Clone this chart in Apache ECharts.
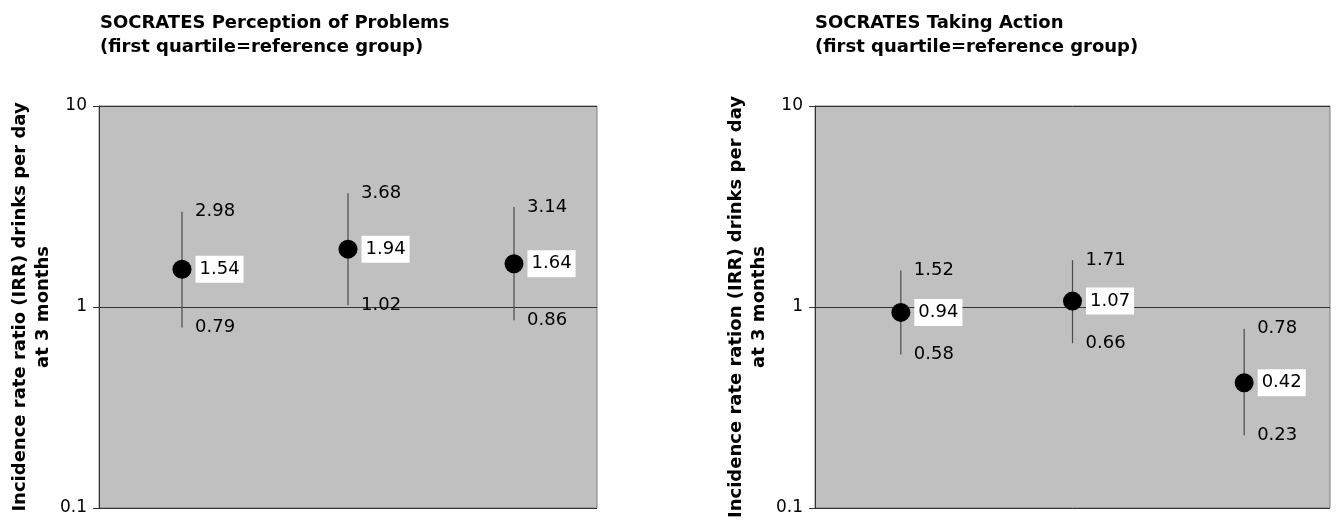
<!DOCTYPE html>
<html>
<head>
<meta charset="utf-8">
<script src="https://cdn.jsdelivr.net/npm/echarts@6/dist/echarts.min.js"></script>
<style>
html,body{margin:0;padding:0;background:#fff;}
#c{width:1339px;height:521px;}
</style>
</head>
<body>
<div id="c"></div>
<script>
// ---- data ----
const quartiles = ['Second quartile', 'Third quartile', 'Fourth quartile'];
const perceptionIRR  = [1.54, 1.94, 1.64];
const perceptionLow  = [0.79, 1.02, 0.86];
const perceptionHigh = [2.98, 3.68, 3.14];
const actionIRR  = [0.94, 1.07, 0.42];
const actionLow  = [0.58, 0.66, 0.23];
const actionHigh = [1.52, 1.71, 0.78];
const titleLeft  = 'SOCRATES Perception of Problems\n(first quartile=reference group)';
const titleRight = 'SOCRATES Taking Action\n(first quartile=reference group)';
const yNameLeft  = 'Incidence rate ratio (IRR) drinks per day\nat 3 months';
const yNameRight = 'Incidence rate ration (IRR) drinks per day\nat 3 months';
const yMin = 0.1, yMax = 10;

const FONT = 'DejaVu Sans';
const chart = echarts.init(document.getElementById('c'));

function yAxisCfg(gridIndex, name) {
  return {
    type: 'log', logBase: 10, gridIndex, min: yMin, max: yMax,
    name, nameLocation: 'middle', nameGap: 44, nameMoveOverlap: false,
    nameTextStyle: {fontFamily: FONT, fontSize: 18, fontWeight: 'bold', color: '#000', lineHeight: 23},
    axisLine: {show: true, lineStyle: {color: '#333', width: 1}},
    axisTick: {show: true, length: 6, lineStyle: {color: '#333'}},
    axisLabel: {fontFamily: FONT, fontSize: 17, color: '#000', margin: 12,
      formatter: v => String(+v.toPrecision(3))},
    splitLine: {show: true, lineStyle: {color: '#333', width: 1}},
    minorTick: {show: false}
  };
}
function xAxisCfg(gridIndex) {
  return {
    type: 'category', gridIndex, data: quartiles, boundaryGap: true,
    axisLine: {show: false}, axisTick: {show: false}, axisLabel: {show: false},
    splitLine: {show: false}
  };
}
function errSeries(idx, low, high) {
  return {
    type: 'custom', xAxisIndex: idx, yAxisIndex: idx,
    data: quartiles.map((q, i) => [i, low[i], high[i]]),
    encode: {x: 0, y: [1, 2]},
    renderItem: (params, api) => {
      const x = api.value(0);
      const a = api.coord([x, api.value(1)]);
      const b = api.coord([x, api.value(2)]);
      return {type: 'line', shape: {x1: a[0], y1: a[1], x2: b[0], y2: b[1]},
        style: {stroke: '#4a4a4a', lineWidth: 1.2}};
    },
    z: 2, silent: true
  };
}
function endLabels(idx, vals) {
  return {
    type: 'scatter', xAxisIndex: idx, yAxisIndex: idx,
    data: quartiles.map((q, i) => [q, vals[i]]),
    symbolSize: 0, z: 3, silent: true, itemStyle: {opacity: 1},
    label: {show: true, position: 'right', distance: 13, fontFamily: FONT, fontSize: 18, color: '#000',
      formatter: p => p.value[1].toFixed(2)}
  };
}
function pointSeries(idx, vals) {
  return {
    type: 'scatter', xAxisIndex: idx, yAxisIndex: idx,
    data: quartiles.map((q, i) => [q, vals[i]]),
    symbol: 'circle', symbolSize: 19, itemStyle: {color: '#000', opacity: 1}, z: 4, silent: true,
    label: {show: true, position: 'right', distance: 4, fontFamily: FONT, fontSize: 18, color: '#000',
      backgroundColor: '#fff', padding: [5, 4, 4, 4],
      formatter: p => p.value[1].toFixed(2)}
  };
}

chart.setOption({
  animation: false,
  backgroundColor: '#fff',
  title: [
    {text: titleLeft, left: 95, top: 6,
     textStyle: {fontFamily: FONT, fontSize: 18, fontWeight: 'bold', color: '#000', lineHeight: 24}},
    {text: titleRight, left: 810, top: 6,
     textStyle: {fontFamily: FONT, fontSize: 18, fontWeight: 'bold', color: '#000', lineHeight: 24}}
  ],
  grid: [
    {left: 99, right: 742, top: 106, bottom: 13, show: true, backgroundColor: '#c0c0c0',
     borderColor: '#7f7f7f', borderWidth: 1, containLabel: false, outerBoundsMode: 'none'},
    {left: 815, right: 9, top: 106, bottom: 13, show: true, backgroundColor: '#c0c0c0',
     borderColor: '#7f7f7f', borderWidth: 1, containLabel: false, outerBoundsMode: 'none'}
  ],
  xAxis: [xAxisCfg(0), xAxisCfg(1)],
  yAxis: [yAxisCfg(0, yNameLeft), yAxisCfg(1, yNameRight)],
  series: [
    errSeries(0, perceptionLow, perceptionHigh),
    endLabels(0, perceptionHigh),
    endLabels(0, perceptionLow),
    pointSeries(0, perceptionIRR),
    errSeries(1, actionLow, actionHigh),
    endLabels(1, actionHigh),
    endLabels(1, actionLow),
    pointSeries(1, actionIRR)
  ]
});
</script>
</body>
</html>
